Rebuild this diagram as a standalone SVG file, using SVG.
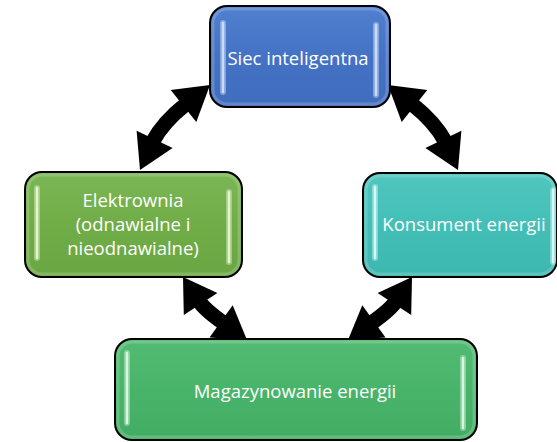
<svg xmlns="http://www.w3.org/2000/svg" width="557" height="442" viewBox="0 0 557 442">
<style>
.box{stroke:#000;stroke-width:2}
.lbl{font-family:"Open Sans","Noto Sans",sans-serif;font-size:18.5px;fill:#fff;text-anchor:middle}
.glow{stroke:#fff;stroke-opacity:0.35;stroke-width:6;stroke-linecap:round;fill:none}
.bar{stroke-width:2.5;stroke-linecap:round;fill:none}
.shaft{fill:none;stroke:#000;stroke-width:15}
.head{fill:#000}
.rim{fill:none;stroke:#fff;stroke-opacity:0.18;stroke-width:3}
</style>
<defs>
<linearGradient id="gBlue" x1="0" y1="0" x2="0" y2="1"><stop offset="0" stop-color="#5180d0"/><stop offset="0.5" stop-color="#4472c4"/><stop offset="1" stop-color="#406dbe"/></linearGradient>
<linearGradient id="gGreen" x1="0" y1="0" x2="0" y2="1"><stop offset="0" stop-color="#7bb655"/><stop offset="0.5" stop-color="#70ad47"/><stop offset="1" stop-color="#6aa643"/></linearGradient>
<linearGradient id="gTeal" x1="0" y1="0" x2="0" y2="1"><stop offset="0" stop-color="#50c6be"/><stop offset="0.5" stop-color="#43bfb7"/><stop offset="1" stop-color="#3db7af"/></linearGradient>
<linearGradient id="gSea" x1="0" y1="0" x2="0" y2="1"><stop offset="0" stop-color="#53bb73"/><stop offset="0.5" stop-color="#48b46a"/><stop offset="1" stop-color="#43ac64"/></linearGradient>
</defs>
<g id="connectors">
<g id="arrow-top-left">
<path class="shaft" d="M186 104 Q162.6 122.6 152.5 142"/>
<polygon class="head" points="210,85 196.3,122 170.7,90"/>
<polygon class="head" points="140,170 172.6,148 136.6,130.8"/>
</g>
<g id="arrow-top-right" transform="translate(598,0) scale(-1,1)">
<path class="shaft" d="M186 104 Q162.6 122.6 152.5 142"/>
<polygon class="head" points="210,85 196.3,122 170.7,90"/>
<polygon class="head" points="140,170 172.6,148 136.6,130.8"/>
</g>
<g id="arrow-left-bottom">
<path class="shaft" d="M199 301 Q204.1 309.2 223.5 323"/>
<polygon class="head" points="183,277 217.4,292.9 183.8,314.9"/>
<polygon class="head" points="247,340 209.5,337.6 232.7,305.2"/>
</g>
<g id="arrow-right-bottom" transform="translate(595,0) scale(-1,1)">
<path class="shaft" d="M199 301 Q204.1 309.2 223.5 323"/>
<polygon class="head" points="183,277 217.4,292.9 183.8,314.9"/>
<polygon class="head" points="247,340 209.5,337.6 232.7,305.2"/>
</g>
</g>
<g id="node-siec">
<rect class="box" x="210" y="6" width="180" height="101" rx="17" fill="url(#gBlue)"/>
<rect class="rim" x="213" y="9" width="174" height="95" rx="14"/>
<line class="glow" x1="223" y1="23" x2="223" y2="92"/><line class="bar" stroke="#c9dcff" x1="223" y1="23" x2="223" y2="92"/>
<line class="glow" x1="376" y1="25" x2="376" y2="95"/><line class="bar" stroke="#c9dcff" x1="376" y1="25" x2="376" y2="95"/>
<text class="lbl" x="298" y="65">Siec inteligentna</text>
</g>
<g id="node-elektrownia">
<rect class="box" x="25" y="172" width="217" height="105" rx="17" fill="url(#gGreen)"/>
<rect class="rim" x="28" y="175" width="211" height="99" rx="14"/>
<line class="glow" x1="37" y1="188" x2="37" y2="258"/><line class="bar" stroke="#e3f5c8" x1="37" y1="188" x2="37" y2="258"/>
<line class="glow" x1="229" y1="192" x2="229" y2="262"/><line class="bar" stroke="#e3f5c8" x1="229" y1="192" x2="229" y2="262"/>
<text class="lbl" x="133" y="207">Elektrownia</text>
<text class="lbl" x="133" y="231">(odnawialne i</text>
<text class="lbl" x="133" y="255">nieodnawialne)</text>
</g>
<g id="node-konsument">
<rect class="box" x="363" y="173" width="194" height="104" rx="17" fill="url(#gTeal)"/>
<rect class="rim" x="366" y="176" width="188" height="98" rx="14"/>
<line class="glow" x1="375" y1="187" x2="375" y2="258"/><line class="bar" stroke="#d0fbf8" x1="375" y1="187" x2="375" y2="258"/>
<line class="glow" x1="553" y1="190" x2="553" y2="262"/><line class="bar" stroke="#d0fbf8" x1="553" y1="190" x2="553" y2="262"/>
<text class="lbl" x="464" y="231">Konsument energii</text>
</g>
<g id="node-magazynowanie">
<rect class="box" x="115" y="339" width="362" height="101" rx="17" fill="url(#gSea)"/>
<rect class="rim" x="118" y="342" width="356" height="95" rx="14"/>
<line class="glow" x1="127" y1="353" x2="127" y2="423"/><line class="bar" stroke="#d5f7df" x1="127" y1="353" x2="127" y2="423"/>
<line class="glow" x1="463" y1="358" x2="463" y2="428"/><line class="bar" stroke="#d5f7df" x1="463" y1="358" x2="463" y2="428"/>
<text class="lbl" x="295" y="398">Magazynowanie energii</text>
</g>
</svg>
